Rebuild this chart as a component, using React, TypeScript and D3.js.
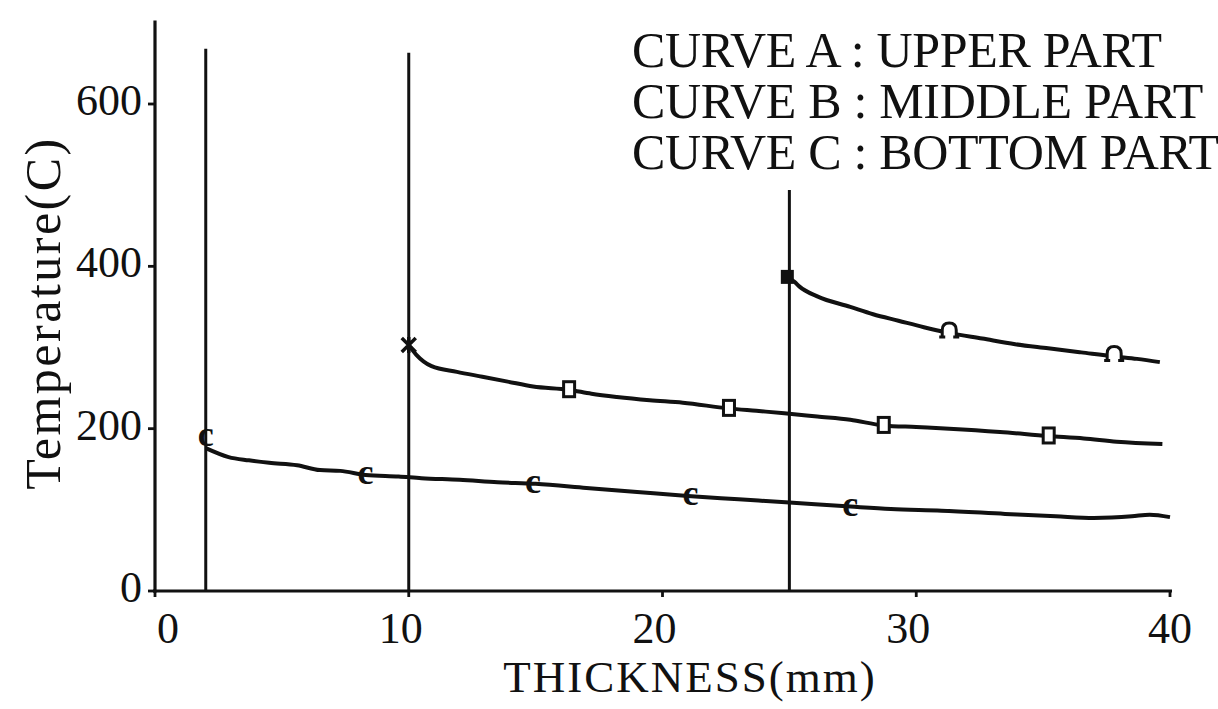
import React from 'react';
import * as d3 from 'd3';

// values
const xTicks = [0, 10, 20, 30, 40];
const yTicks = [0, 200, 400, 600];

const curveA: [number, number][] = [
  [24.9, 387], [25.2, 381], [25.4, 375], [26.1, 363], [27.4, 350], [28.3, 341],
  [29.3, 333], [30.3, 325], [31.3, 318], [32.6, 311], [33.9, 304], [35.2, 299],
  [36.5, 294], [37.8, 289], [38.7, 286], [39.6, 282],
];
const curveB: [number, number][] = [
  [10, 303], [10.3, 291], [10.9, 277], [11.9, 270], [12.9, 264], [13.9, 258],
  [14.9, 252], [16.3, 248], [17.2, 243], [18.2, 239], [19.5, 235], [20.8, 232],
  [22.6, 225], [23.7, 222], [24.8, 219], [26.1, 215], [27.4, 211], [28.7, 204],
  [30.0, 202], [31.3, 200], [33.3, 196], [35.2, 191], [36.6, 188], [37.9, 184],
  [39.7, 181],
];
const curveC: [number, number][] = [
  [2.0, 176], [2.9, 165], [3.7, 161], [4.5, 158], [5.6, 155], [6.5, 149],
  [7.3, 148], [8.3, 143], [9.6, 141], [10.5, 139], [12.0, 137], [13.5, 134],
  [15.0, 132], [17.0, 127], [19.0, 122], [21.0, 117], [23.0, 113], [25.0, 109],
  [27.4, 104], [29.0, 101], [31.0, 99], [33.5, 95], [35.5, 92], [37.0, 90],
  [38.5, 92], [39.2, 94], [40.0, 91],
];

// plotter marks on each curve
const startMarks = [
  { x: 2.0, y: 190, kind: 'c' },
  { x: 10, y: 303, kind: 'star' },
  { x: 24.9, y: 387, kind: 'blob' },
];
const marksA: [number, number][] = [[31.3, 318], [37.8, 289]];
const marksB: [number, number][] = [[16.3, 248], [22.6, 225], [28.7, 204], [35.2, 191]];
const marksC: [number, number][] = [[8.3, 143], [14.9, 132], [21.1, 117], [27.4, 104]];

// vertical start lines (x position, top value)
const startLines = [
  { x: 2, top: 668 },
  { x: 10, top: 663 },
  { x: 25, top: 494 },
];

const legendLines = [
  'CURVE A : UPPER PART',
  'CURVE B : MIDDLE PART',
  'CURVE C : BOTTOM PART',
];

const W = 1218;
const H = 709;
const ink = '#111';
const serif = '"Liberation Serif", "Times New Roman", serif';

export default function App() {
  const x = d3.scaleLinear().domain([0, 40]).range([155, 1170]);
  const y = d3.scaleLinear().domain([0, 600]).range([591, 104]);

  const line = d3
    .line<[number, number]>()
    .x((d) => x(d[0]))
    .y((d) => y(d[1]))
    .curve(d3.curveMonotoneX);

  const arch = 'M -7 6 L -7 -1 Q -7 -8 0 -8 Q 7 -8 7 -1 L 7 6 M -10 6 L -4 6 M 4 6 L 10 6';

  return (
    <svg
      width={W}
      height={H}
      style={{ position: 'absolute', left: 0, top: 0, background: '#fff' }}
      fontFamily={serif}
    >
      {/* axes */}
      <line x1={x(0)} x2={x(0)} y1={y(703)} y2={y(0) + 1.5} stroke={ink} strokeWidth={3.2} />
      <line x1={x(0) - 2} x2={x(40) + 2} y1={y(0)} y2={y(0)} stroke={ink} strokeWidth={3.2} />

      {yTicks.map((t) => (
        <g key={'y' + t}>
          <line x1={x(0) - 7} x2={x(0)} y1={y(t)} y2={y(t)} stroke={ink} strokeWidth={2.8} />
          <text x={x(0) - 13} y={y(t) + 11} textAnchor="end" fontSize={44} fill={ink}>
            {t}
          </text>
        </g>
      ))}

      {xTicks.map((t) => (
        <g key={'x' + t}>
          <line x1={x(t)} x2={x(t)} y1={y(0)} y2={y(0) + 6} stroke={ink} strokeWidth={2.8} />
          <text
            x={x(t) + (t === 0 ? 13 : t === 40 ? 0 : -8)}
            y={643}
            textAnchor="middle"
            fontSize={44}
            fill={ink}
          >
            {t}
          </text>
        </g>
      ))}

      <text x={690} y={692} textAnchor="middle" fontSize={45} letterSpacing={2} fill={ink}>
        THICKNESS(mm)
      </text>
      <text
        transform={`translate(60,313) rotate(-90)`}
        textAnchor="middle"
        fontSize={50}
        letterSpacing={2.5}
        fill={ink}
      >
        Temperature(C)
      </text>

      {/* start lines */}
      {startLines.map((s) => (
        <line
          key={'v' + s.x}
          x1={x(s.x)}
          x2={x(s.x)}
          y1={y(s.top)}
          y2={y(0)}
          stroke={ink}
          strokeWidth={3}
        />
      ))}

      {/* curves */}
      {[curveA, curveB, curveC].map((c, i) => (
        <path key={'c' + i} d={line(c) ?? ''} fill="none" stroke={ink} strokeWidth={4} strokeLinejoin="round" />
      ))}

      {/* marks */}
      {marksA.map((d, i) => (
        <path
          key={'ma' + i}
          transform={`translate(${x(d[0])},${y(d[1]) - 2})`}
          d={arch}
          fill="#fff"
          stroke={ink}
          strokeWidth={3}
        />
      ))}
      {marksB.map((d, i) => (
        <rect
          key={'mb' + i}
          x={x(d[0]) - 5}
          y={y(d[1]) - 8}
          width={11}
          height={15}
          fill="#fff"
          stroke={ink}
          strokeWidth={3}
        />
      ))}
      {marksC.map((d, i) => (
        <text
          key={'mc' + i}
          x={x(d[0])}
          y={y(d[1]) + 9}
          textAnchor="middle"
          fontSize={36}
          fontWeight="bold"
          fill={ink}
        >
          c
        </text>
      ))}
      {startMarks.map((m) => {
        const cx = x(m.x);
        const cy = y(m.y);
        if (m.kind === 'c') {
          return (
            <text key="sc" x={cx} y={cy + 9} textAnchor="middle" fontSize={36} fontWeight="bold" fill={ink}>
              c
            </text>
          );
        }
        if (m.kind === 'star') {
          return (
            <path
              key="sb"
              transform={`translate(${cx},${cy})`}
              d="M -7 -7 L 7 7 M 7 -7 L -7 7 M 0 -8 L 0 8"
              stroke={ink}
              strokeWidth={3.5}
            />
          );
        }
        return <rect key="sa" x={cx - 6} y={cy - 7} width={13} height={14} fill={ink} />;
      })}

      {/* legend */}
      {legendLines.map((t, i) => (
        <text key={'l' + i} x={632} y={67 + i * 51} fontSize={50} letterSpacing={-0.3} fill={ink}>
          {t}
        </text>
      ))}
    </svg>
  );
}
